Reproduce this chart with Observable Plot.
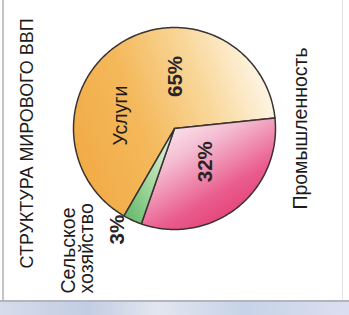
<!DOCTYPE html>
<html><head><meta charset="utf-8">
<script src="https://cdn.jsdelivr.net/npm/d3@7"></script>
<script src="https://cdn.jsdelivr.net/npm/@observablehq/plot@0.6"></script>
<style>
html,body{margin:0;padding:0;background:#fff;}
#frame{position:relative;width:349px;height:315px;overflow:hidden;background:#fff;}
#chart{position:absolute;left:0;top:0;}
.bl{position:absolute;left:2px;top:0;width:2px;height:301px;background:#c4c4c4;}
.br{position:absolute;left:342px;top:0;width:1px;height:301px;background:#e2e2e2;}
.bb{position:absolute;left:0;top:300px;width:349px;height:2px;background:#b4b4bc;}
.band{position:absolute;left:0;top:302px;width:349px;height:13px;background:linear-gradient(90deg,#d6dcea,#c2cde4 25%,#e2e6f0 45%,#c6d3e8 70%,#dcdff0);}
</style></head>
<body>
<div id="frame"><div id="chart"></div><div class="bl"></div><div class="br"></div><div class="bb"></div><div class="band"></div></div>
<script>
// ---- data ----
const title = "СТРУКТУРА МИРОВОГО ВВП";
const categories = ["Услуги", "Промышленность", "Сельское хозяйство"];
const shares = [65, 32, 3];
const pctLabels = ["65%", "32%", "3%"];
const nameLabels = ["Услуги", "Промышленность", "Сельское\nхозяйство"];
const clockwiseOrder = ["Промышленность", "Сельское хозяйство", "Услуги"];

// ---- styling / layout (not data) ----
const fills = {"Услуги": "url(#gOrange)", "Промышленность": "url(#gPink)", "Сельское хозяйство": "url(#gGreen)"};
const startDeg = 84; // d3 angle (clockwise from 12 o'clock) where the pie starts
// label placement in polar coords relative to pie centre (r in radii, a in degrees clockwise from east)
const pctPlace = {"Услуги": {r: .515, a: -89}, "Промышленность": {r: .45, a: 47}, "Сельское хозяйство": {r: 1.15, a: 119.5}};
const namePlace = {"Услуги": {r: .55, a: 193.5, anchor: "middle"}, "Промышленность": {r: 1.25, a: 0, anchor: "middle"}, "Сельское хозяйство": {r: 1.89, a: 120.2, anchor: "start"}};
const titlePlace = {r: 1.463, a: 174.2};

const rows = categories.map((c, i) => ({category: c, share: shares[i], pct: pctLabels[i], name: nameLabels[i]}));
const arcs = d3.pie().value(d => d.share)
  .sort((a, b) => clockwiseOrder.indexOf(a.category) - clockwiseOrder.indexOf(b.category))
  .startAngle(startDeg * Math.PI / 180).endAngle((startDeg + 360) * Math.PI / 180)(rows);

const slicePts = arcs.map(a => {
  const pts = [{x: 0, y: 0}];
  const n = Math.max(2, Math.ceil((a.endAngle - a.startAngle) * 180 / Math.PI));
  for (let k = 0; k <= n; k++) {
    const t = a.startAngle + (a.endAngle - a.startAngle) * k / n;
    pts.push({x: Math.sin(t), y: -Math.cos(t)});
  }
  pts.push({x: 0, y: 0});
  return {category: a.data.category, pts};
});

const polar = p => ({x: p.r * Math.cos(p.a * Math.PI / 180), y: p.r * Math.sin(p.a * Math.PI / 180)});
const pctTexts = rows.map(d => ({...polar(pctPlace[d.category]), t: d.pct}));
const nameTexts = rows.map(d => ({...polar(namePlace[d.category]), t: d.name, anchor: namePlace[d.category].anchor}));
const font = "'Liberation Sans', Arial, sans-serif";

const chart = Plot.plot({
  width: 349, height: 300, margin: 0,
  style: {background: "transparent", fontFamily: font, overflow: "visible"},
  x: {domain: [-1, 1], range: [73, 275], axis: null},
  y: {domain: [-1, 1], range: [27, 229], axis: null},
  marks: [
    ...slicePts.map(s => Plot.line(s.pts, {x: "x", y: "y", fill: fills[s.category], stroke: "#3b3333", strokeWidth: 1.5, strokeLinejoin: "round"})),
    Plot.text(pctTexts, {x: "x", y: "y", text: "t", rotate: -90, fontSize: 20.5, fontWeight: "bold", fill: "#2a2326"}),
    Plot.text(nameTexts.filter(d => d.anchor === "middle"), {x: "x", y: "y", text: "t", rotate: -90, fontSize: 19.5, fill: "#1e1a1a", textAnchor: "middle"}),
    Plot.text(nameTexts.filter(d => d.anchor === "start"), {x: "x", y: "y", text: "t", rotate: -90, fontSize: 19.5, fill: "#1e1a1a", textAnchor: "start", lineAnchor: "middle", lineHeight: 0.92}),
    Plot.text([{...polar(titlePlace), t: title}], {x: "x", y: "y", text: "t", rotate: -90, fontSize: 18, fill: "#1e1a1a", textAnchor: "middle", className: "ttl"})
  ]
});

// gradients for slice fills
const ns = "http://www.w3.org/2000/svg";
const defs = document.createElementNS(ns, "defs");
function grad(id, x1, y1, x2, y2, stops) {
  const g = document.createElementNS(ns, "linearGradient");
  g.setAttribute("id", id);
  g.setAttribute("x1", x1); g.setAttribute("y1", y1); g.setAttribute("x2", x2); g.setAttribute("y2", y2);
  for (const [o, c] of stops) {
    const s = document.createElementNS(ns, "stop");
    s.setAttribute("offset", o); s.setAttribute("stop-color", c);
    g.appendChild(s);
  }
  defs.appendChild(g);
}
grad("gOrange", 0, 0.65, 1, 0.3, [[0, "#f2ab46"], [0.35, "#f4b95c"], [0.68, "#f9d89c"], [1, "#fef9ee"]]);
grad("gPink", 0.15, 0, 0.85, 1, [[0, "#fcf2f6"], [0.3, "#f4bdd1"], [0.65, "#ea5d8e"], [1, "#e02e68"]]);
grad("gGreen", 1, 0, 0, 1, [[0, "#eef7ea"], [0.5, "#a8daa2"], [1, "#5db565"]]);
chart.insertBefore(defs, chart.firstChild);

// the title is set in a narrower face in the original
d3.select(chart).selectAll("g.ttl text").attr("textLength", 250).attr("lengthAdjust", "spacingAndGlyphs");

document.getElementById("chart").appendChild(chart);
</script>
</body></html>
